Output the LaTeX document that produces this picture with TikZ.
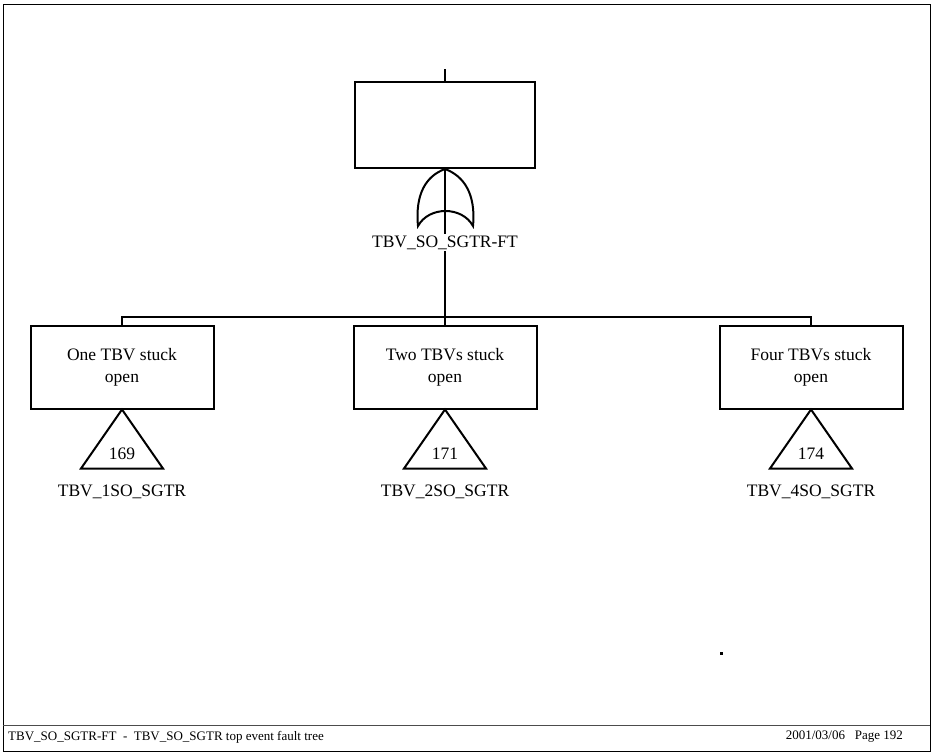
\documentclass[tikz,border=0pt]{standalone}
\usepackage{fontspec}
\setmainfont{Liberation Serif}
\usetikzlibrary{positioning}
\tikzset{
  evbox/.style={draw, line width=2pt, rectangle, align=center,
    minimum width=183pt, minimum height=83pt, inner sep=0pt,
    font=\fontsize{17.5}{22}\selectfont},
  topbox/.style={evbox, minimum width=180pt, minimum height=86pt},
  ftwire/.style={line width=2pt},
  ftlabel/.style={font=\fontsize{17.5}{20}\selectfont, inner sep=1pt},
  trinum/.style={font=\fontsize{17.5}{20}\selectfont, inner sep=0pt},
  footlabel/.style={font=\fontsize{13}{14}\selectfont, inner sep=0pt},
}

\begin{document}
\begin{tikzpicture}[x=1pt, y=-1pt]
  % ---- page frame ----
  \useasboundingbox (0,0) rectangle (932,753);
  \draw[line width=1pt] (3,4) rectangle (930,751);
  \draw[line width=0.8pt, black!70] (3,725) -- (930,725);
  \node[footlabel, anchor=west] at (8,737) (fl)
    {TBV\_SO\_SGTR-FT \ - \ TBV\_SO\_SGTR top event fault tree};
  \node[footlabel, anchor=east] at (903,737) (fr) {2001/03/06 \ \ Page 192};

  % ---- top event + OR gate ----
  \node[topbox] at (445,125) (top) {};
  \coordinate (in) at (445,69);
  \coordinate (gbot) at (445,234);
  \draw[ftwire] (in) -- (top.north);
  \draw[ftwire] (418,226) .. controls (415,194) and (426,176) .. (top.south)
    .. controls (464,176) and (476,194) .. (473,226)
    .. controls (462,206) and (429,206) .. cycle;
  \draw[ftwire] (top.south) -- (gbot);
  \node[ftlabel] at (445,243) (gname) {TBV\_SO\_SGTR-FT};

  % ---- events ----
  \node[evbox] at (122,367) (e1) {One TBV stuck\\open};
  \node[evbox] at (445,367) (e2) {Two TBVs stuck\\open};
  \node[evbox] at (811,367) (e4) {Four TBVs stuck\\open};
  \coordinate (bar) at (445,317);

  % ---- edges ----
  \draw[ftwire] (gname.south) -- (e2.north);
  \draw[ftwire] (e1.north) |- (bar) -| (e4.north);

  % ---- transfers ----
  \draw[ftwire] (e1.south) -- ++(-41,59) -- ++(82,0) -- cycle;
  \draw[ftwire] (e2.south) -- ++(-41,59) -- ++(82,0) -- cycle;
  \draw[ftwire] (e4.south) -- ++(-41,59) -- ++(82,0) -- cycle;
  \node[trinum] at ([yshift=-44pt]e1.south) (t1) {169};
  \node[trinum] at ([yshift=-44pt]e2.south) (t2) {171};
  \node[trinum] at ([yshift=-44pt]e4.south) (t4) {174};
  \node[ftlabel] at ([yshift=-82pt]e1.south) (n1) {TBV\_1SO\_SGTR};
  \node[ftlabel] at ([yshift=-82pt]e2.south) (n2) {TBV\_2SO\_SGTR};
  \node[ftlabel] at ([yshift=-82pt]e4.south) (n4) {TBV\_4SO\_SGTR};

  % stray dot
  \fill (720,652) rectangle (723,655);
\end{tikzpicture}
\end{document}
